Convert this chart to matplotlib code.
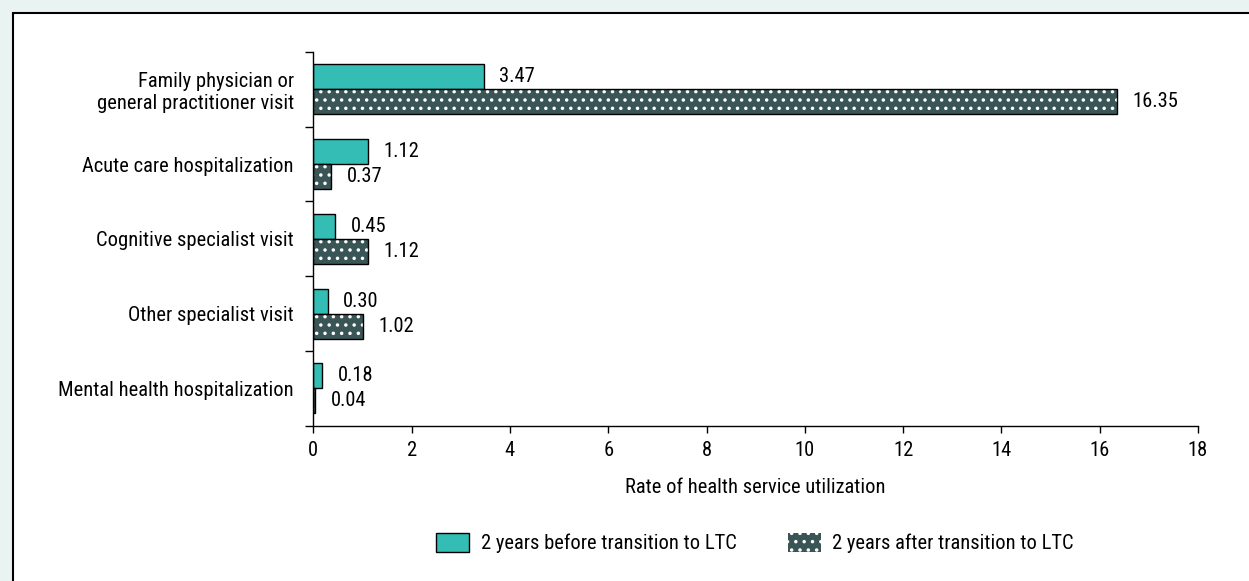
import matplotlib
matplotlib.use("Agg")
import matplotlib.pyplot as plt
from matplotlib import font_manager
from matplotlib.patches import Patch, Rectangle
import numpy as np

# ---- data ----
categories = ["Family physician or\ngeneral practitioner visit",
              "Acute care hospitalization",
              "Cognitive specialist visit",
              "Other specialist visit",
              "Mental health hospitalization"]
before = [3.47, 1.12, 0.45, 0.30, 0.18]
after = [16.35, 0.37, 1.12, 1.02, 0.04]
series_names = ["2 years before transition to LTC", "2 years after transition to LTC"]
xticks = [0, 2, 4, 6, 8, 10, 12, 14, 16, 18]
xlabel = "Rate of health service utilization"

# ---- font choice (Arial Narrow look-alike if available) ----
names = {f.name for f in font_manager.fontManager.ttflist}
FS = 13.5
FONT = ["Liberation Sans", "DejaVu Sans"]
for cand, fs in [("Liberation Sans Narrow", 16), ("Arial Narrow", 16), ("Roboto Condensed", 14.8),
                 ("Archivo Narrow", 16)]:
    if cand in names:
        FONT = [cand, "DejaVu Sans"]
        FS = fs
        break
plt.rcParams['font.family'] = FONT
plt.rcParams['hatch.linewidth'] = 1.3

TEAL = "#33BDB5"
DARK = "#3A5556"

fig = plt.figure(figsize=(12.49, 5.81), dpi=100)
fig.patch.set_facecolor("#E9F3F1")
panel = Rectangle((13/1249, -0.1), 1.2, 1 - 13/581 + 0.1, transform=fig.transFigure,
                  facecolor="white", edgecolor="black", linewidth=1.5, zorder=-10)
fig.patches.append(panel)

ax = fig.add_axes([313.3/1249, 1 - 425.7/581, (1198 - 313.3)/1249, (425.7 - 52)/581], zorder=1)
ax.set_facecolor("none")
n = len(categories)
y = np.arange(n)
h = 0.335
ax.barh(y - h/2, before, height=h, color=TEAL, edgecolor="black", linewidth=1.0, zorder=2)
ax.barh(y + h/2, after, height=h, color=DARK, edgecolor="white", linewidth=0, hatch="..", zorder=2)
ax.barh(y + h/2, after, height=h, fill=False, edgecolor="black", linewidth=1.0, zorder=3)

for yi, v in zip(y, before):
    ax.annotate(f"{v:.2f}", (v, yi - h/2), xytext=(11, 0), textcoords="offset points",
                va="center", ha="left", fontsize=FS)
for yi, v in zip(y, after):
    ax.annotate(f"{v:.2f}", (v, yi + h/2), xytext=(11, 0), textcoords="offset points",
                va="center", ha="left", fontsize=FS)

ax.set_xlim(0, 18)
ax.set_ylim(n - 0.5, -0.5)
ax.set_xticks(xticks)
ax.set_xticklabels([str(t) for t in xticks], fontsize=FS)
ax.set_yticks(y)
ax.set_yticklabels(categories, fontsize=FS, ha="right", multialignment="right")
ax.set_yticks(np.arange(n + 1) - 0.5, minor=True)
ax.tick_params(axis="y", which="major", length=0, pad=14)
ax.tick_params(axis="y", which="minor", length=6, width=1, direction="out")
ax.tick_params(axis="x", which="major", length=5, width=1, direction="out", pad=6)
for s in ["top", "right"]:
    ax.spines[s].set_visible(False)
for s in ["left", "bottom"]:
    ax.spines[s].set_linewidth(1.0)
ax.set_xlabel(xlabel, fontsize=FS, labelpad=13)

handles = [Patch(facecolor=TEAL, edgecolor="black", linewidth=1.0),
           Patch(facecolor=DARK, edgecolor="white", hatch="..", linewidth=0)]
leg = fig.legend(handles, series_names, loc="center", bbox_to_anchor=(755/1249, 1 - 543/581),
                 ncol=2, frameon=False, fontsize=FS, handlelength=23.8/FS, handleheight=15.8/FS,
                 handletextpad=8.0/FS, columnspacing=37.0/FS)
fig.savefig("out.png", dpi=100, facecolor=fig.get_facecolor())
